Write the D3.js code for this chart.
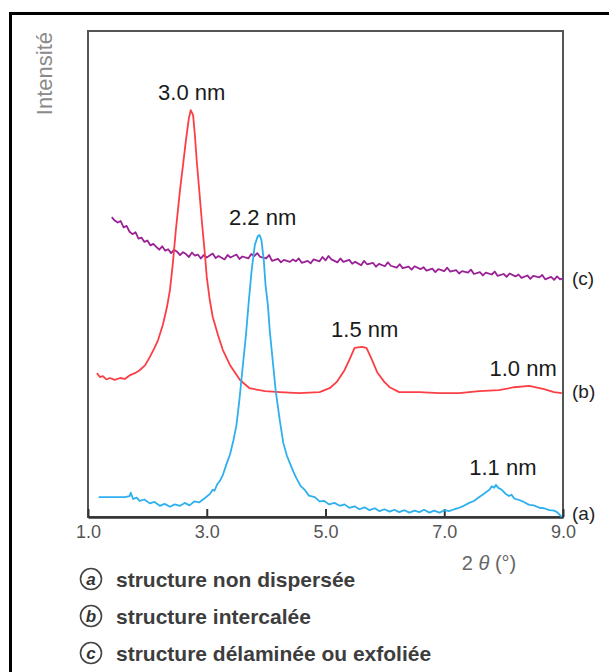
<!DOCTYPE html>
<html>
<head>
<meta charset="utf-8">
<script src="https://cdn.jsdelivr.net/npm/d3@7"></script>
<style>
  body { margin: 0; background: #fff; }
  svg { display: block; font-family: "Liberation Sans", Arial, sans-serif; }
</style>
</head>
<body>
<div id="chart"></div>
<script>
// 2 theta (degrees) vs intensity (arbitrary units, 0..100)
var xTicks = [1.0, 3.0, 5.0, 7.0, 9.0];

// (a) structure non dispersee
var curveA = [
  [1.18,4.1],[1.40,4.1],[1.62,4.1],[1.70,4.3],[1.72,5.0],[1.76,3.7],[1.82,4.0],[1.87,3.3],[1.95,3.6],[2.04,2.8],
  [2.12,3.1],[2.21,2.3],[2.29,2.7],[2.38,2.1],[2.46,2.6],[2.55,2.3],[2.63,2.9],[2.71,2.4],[2.79,3.2],[2.87,3.0],
  [2.97,3.9],[3.05,4.7],[3.10,5.6],[3.13,5.4],[3.18,6.8],[3.22,7.4],[3.27,8.6],[3.30,9.7],[3.35,11.5],[3.39,12.8],
  [3.45,15.8],[3.50,18.9],[3.55,24.1],[3.60,30.2],[3.66,37.4],[3.71,44.7],[3.76,51.2],[3.81,56.0],[3.86,57.8],[3.89,58.0],
  [3.92,57.0],[3.96,52.9],[3.99,47.7],[4.03,43.6],[4.06,38.5],[4.11,32.3],[4.16,26.1],[4.23,19.9],[4.29,15.2],[4.35,12.6],
  [4.40,11.1],[4.46,9.3],[4.51,8.0],[4.58,6.4],[4.65,5.6],[4.72,4.4],[4.82,4.1],[4.90,3.2],[4.98,3.3],[5.06,2.6],
  [5.15,2.9],[5.24,2.3],[5.32,2.6],[5.40,1.9],[5.49,2.2],[5.57,1.6],[5.66,2.0],[5.74,1.4],[5.83,1.8],[5.91,1.2],
  [5.99,1.6],[6.08,1.1],[6.16,1.5],[6.24,1.0],[6.33,1.4],[6.41,0.9],[6.50,1.3],[6.58,1.0],[6.66,1.5],[6.75,0.9],
  [6.83,1.3],[6.92,0.9],[7.00,1.4],[7.08,1.2],[7.17,1.6],[7.25,1.9],[7.33,2.3],[7.42,2.9],[7.50,3.3],[7.59,4.1],
  [7.67,4.8],[7.76,5.6],[7.80,6.3],[7.84,6.0],[7.87,6.6],[7.91,6.0],[7.97,5.6],[8.03,4.8],[8.09,4.3],[8.13,4.6],
  [8.18,3.8],[8.26,3.5],[8.34,3.1],[8.43,2.5],[8.51,2.4],[8.60,1.9],[8.68,1.8],[8.77,1.4],[8.85,1.3],[8.90,1.0],
  [8.98,0.0]
];

// (b) structure intercalee
var curveB = [
  [1.15,29.6],[1.20,28.8],[1.25,29.0],[1.31,28.3],[1.37,28.6],[1.45,28.2],[1.54,28.6],[1.62,28.4],[1.71,29.2],[1.79,29.6],
  [1.87,30.2],[1.96,31.2],[2.04,32.9],[2.12,34.8],[2.18,36.4],[2.26,39.5],[2.33,43.2],[2.38,46.7],[2.43,52.3],[2.48,59.1],
  [2.55,67.3],[2.60,72.4],[2.65,77.6],[2.70,82.1],[2.73,83.7],[2.77,82.7],[2.80,78.6],[2.83,73.5],[2.88,66.3],[2.92,60.5],
  [2.97,53.9],[3.00,49.4],[3.05,44.7],[3.10,41.2],[3.19,37.4],[3.27,34.4],[3.39,31.3],[3.56,28.2],[3.72,26.5],[3.98,25.9],
  [4.23,25.7],[4.56,25.5],[4.90,25.7],[5.07,26.5],[5.19,27.8],[5.32,30.2],[5.40,32.3],[5.49,34.8],[5.61,35.0],[5.69,34.8],
  [5.77,32.7],[5.87,29.8],[5.99,27.8],[6.08,26.7],[6.24,25.7],[6.58,25.7],[6.92,25.5],[7.25,25.5],[7.59,25.9],[7.92,26.1],
  [8.18,26.7],[8.43,27.0],[8.68,26.3],[8.85,25.7],[8.98,25.5]
];

// (c) structure delaminee ou exfoliee
var curveC = [
  [1.40,61.7],[1.45,61.0],[1.50,60.6],[1.55,60.9],[1.60,59.6],[1.65,59.9],[1.70,58.7],[1.75,58.2],[1.80,58.6],[1.85,57.3],
  [1.90,57.5],[1.95,56.6],[2.00,56.9],[2.05,55.9],[2.10,56.2],[2.15,55.6],[2.20,55.0],[2.25,55.7],[2.30,54.8],[2.35,55.1],
  [2.40,54.3],[2.45,55.0],[2.50,54.6],[2.55,53.9],[2.60,54.5],[2.65,54.1],[2.70,53.5],[2.75,54.4],[2.80,53.8],[2.85,54.0],
  [2.90,53.2],[2.95,53.9],[3.00,53.4],[3.10,54.2],[3.15,53.3],[3.20,53.7],[3.30,53.0],[3.35,53.9],[3.40,53.4],[3.50,54.0],
  [3.55,53.1],[3.60,53.6],[3.70,53.2],[3.75,54.1],[3.80,53.7],[3.85,54.3],[3.90,53.5],[4.00,53.2],[4.05,53.9],[4.10,52.7],
  [4.20,53.1],[4.25,52.4],[4.30,52.9],[4.40,52.5],[4.45,53.0],[4.50,52.6],[4.55,53.2],[4.60,52.3],[4.70,52.7],[4.75,52.2],
  [4.80,53.0],[4.90,52.6],[4.95,53.5],[5.00,52.8],[5.05,53.7],[5.10,53.0],[5.20,52.4],[5.25,53.2],[5.30,52.5],[5.40,52.9],
  [5.45,52.1],[5.50,52.5],[5.60,51.8],[5.65,52.7],[5.70,52.0],[5.80,52.3],[5.85,51.5],[5.90,52.1],[6.00,51.6],[6.05,52.4],
  [6.10,51.7],[6.20,51.3],[6.25,52.0],[6.30,51.2],[6.40,51.5],[6.45,50.9],[6.50,51.6],[6.60,51.0],[6.65,51.4],[6.70,50.7],
  [6.80,51.1],[6.85,50.4],[6.90,51.0],[7.00,50.6],[7.05,51.3],[7.10,50.5],[7.20,50.8],[7.25,50.1],[7.30,50.6],[7.40,50.3],
  [7.45,50.9],[7.50,50.0],[7.60,50.4],[7.65,49.7],[7.70,50.3],[7.80,49.9],[7.85,50.5],[7.90,49.6],[8.00,50.0],[8.05,49.4],
  [8.10,50.1],[8.20,49.5],[8.25,49.9],[8.30,49.2],[8.40,49.7],[8.45,49.0],[8.50,49.6],[8.60,49.3],[8.65,49.8],[8.70,48.9],
  [8.80,49.4],[8.85,48.8],[8.90,49.5],[8.95,48.9],[9.00,49.1]
];

// peak labels: text, curve key, approx 2 theta of peak
var peakLabels = [
  ['3.0 nm', 'b', 2.73],
  ['2.2 nm', 'a', 3.89],
  ['1.5 nm', 'b', 5.61],
  ['1.0 nm', 'b', 8.43],
  ['1.1 nm', 'a', 7.87]
];
var legendKeys = ['a', 'b', 'c'];
var legendTexts = ['structure non dispersée', 'structure intercalée', 'structure délaminée ou exfoliée'];

var W = 609, H = 672;
var plot = { left: 88, top: 31, right: 563, bottom: 517 };
var colors = { a: '#2fb0ee', b: '#fb3f45', c: '#9a2196' };
var curves = { a: curveA, b: curveB, c: curveC };
var labelNudge = { '3.0 nm': 1, '2.2 nm': 3, '1.5 nm': 3, '1.0 nm': -6, '1.1 nm': 7 };

var svg = d3.select('#chart').append('svg')
    .attr('width', W)
    .attr('height', H);

// outer frame (only left and top visible)
svg.append('path')
    .attr('d', 'M10.5,' + H + 'V13.5H' + W)
    .attr('fill', 'none')
    .attr('stroke', '#000')
    .attr('stroke-width', 3);

var x = d3.scaleLinear().domain([1, 9]).range([plot.left, plot.right]);
var y = d3.scaleLinear().domain([0, 100]).range([plot.bottom, plot.top]);

// plot box
svg.append('rect')
    .attr('x', plot.left)
    .attr('y', plot.top)
    .attr('width', plot.right - plot.left)
    .attr('height', plot.bottom - plot.top)
    .attr('fill', 'none')
    .attr('stroke', '#555')
    .attr('stroke-width', 2);

var xAxis = svg.append('g')
    .attr('transform', 'translate(0,' + plot.bottom + ')')
    .call(d3.axisBottom(x)
        .tickValues(xTicks)
        .tickFormat(d3.format('.1f'))
        .tickSizeInner(-8)
        .tickSizeOuter(0)
        .tickPadding(8));
xAxis.select('.domain')
    .attr('stroke', '#333')
    .attr('stroke-width', 2.5);
xAxis.selectAll('.tick line')
    .attr('stroke', '#333')
    .attr('stroke-width', 2);
xAxis.selectAll('.tick text')
    .attr('font-size', 18)
    .attr('fill', '#555')
    .attr('font-family', '"Liberation Sans", Arial, sans-serif');

// x axis title
var xt = svg.append('text')
    .attr('x', 489)
    .attr('y', 570)
    .attr('text-anchor', 'middle')
    .attr('font-size', 20)
    .attr('fill', '#666');
xt.append('tspan').text('2 ');
xt.append('tspan').attr('font-style', 'italic').text('θ');
xt.append('tspan').text(' (°)');

// y axis title
svg.append('text')
    .attr('transform', 'translate(52,32) rotate(-90)')
    .attr('text-anchor', 'end')
    .attr('font-size', 22)
    .attr('fill', '#8a8a8a')
    .text('Intensité');

var line = d3.line()
    .x(function (d) { return x(d[0]); })
    .y(function (d) { return y(d[1]); });

['c', 'b', 'a'].forEach(function (k) {
    svg.append('path')
        .datum(curves[k])
        .attr('d', line)
        .attr('fill', 'none')
        .attr('stroke', colors[k])
        .attr('stroke-width', 1.8)
        .attr('stroke-linejoin', 'round');
});

// peak labels above the local maxima
peakLabels.forEach(function (p) {
    var pts = curves[p[1]].filter(function (d) { return Math.abs(d[0] - p[2]) < 0.2; });
    var top = d3.greatest(pts, function (d) { return d[1]; });
    svg.append('text')
        .attr('x', x(top[0]) + labelNudge[p[0]])
        .attr('y', y(top[1]) - 10)
        .attr('text-anchor', 'middle')
        .attr('font-size', 22)
        .attr('fill', '#1a1a1a')
        .text(p[0]);
});

// curve end labels (a) (b) (c)
legendKeys.forEach(function (k) {
    var c = curves[k];
    var endVal = d3.mean(c.slice(-3), function (d) { return d[1]; });
    svg.append('text')
        .attr('x', plot.right + 9)
        .attr('y', y(endVal))
        .attr('dy', '0.35em')
        .attr('font-size', 19)
        .attr('fill', '#222')
        .text('(' + k + ')');
});

// legend
var legend = svg.append('g');
legendKeys.forEach(function (k, i) {
    var ly = 579 + i * 37;
    legend.append('circle')
        .attr('cx', 91)
        .attr('cy', ly)
        .attr('r', 10.5)
        .attr('fill', 'none')
        .attr('stroke', '#444')
        .attr('stroke-width', 1.6);
    legend.append('text')
        .attr('x', 91)
        .attr('y', ly)
        .attr('dy', '0.35em')
        .attr('text-anchor', 'middle')
        .attr('font-size', 17)
        .attr('font-weight', 'bold')
        .attr('font-style', 'italic')
        .attr('fill', '#333')
        .text(k);
    legend.append('text')
        .attr('x', 116)
        .attr('y', ly)
        .attr('dy', '0.36em')
        .attr('font-size', 21)
        .attr('font-weight', 'bold')
        .attr('fill', '#3d3d3d')
        .text(legendTexts[i]);
});
</script>
</body>
</html>
